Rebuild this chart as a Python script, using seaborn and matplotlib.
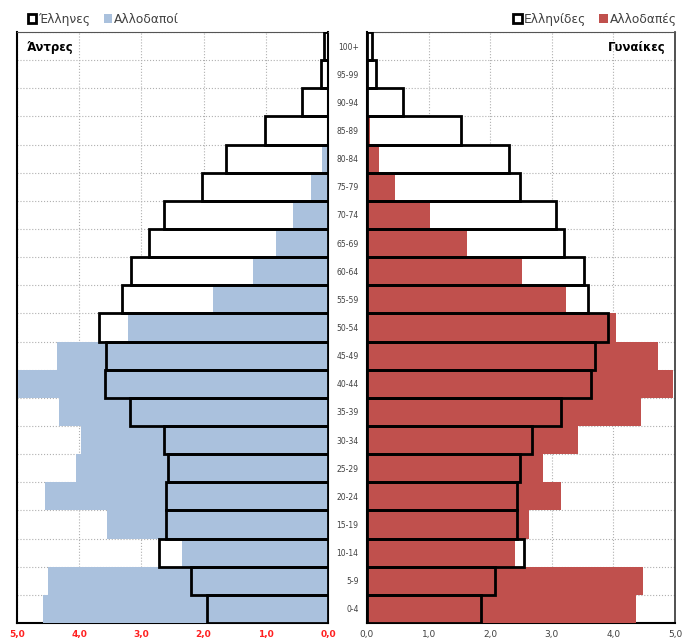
import numpy as np
import pandas as pd
import matplotlib
matplotlib.use("Agg")
import matplotlib.pyplot as plt
from matplotlib.patches import Patch
import seaborn as sns

# ── Data (percent of population, by age group) ──────────────────────────────
ages = ['0-4', '5-9', '10-14', '15-19', '20-24', '25-29', '30-34', '35-39',
        '40-44', '45-49', '50-54', '55-59', '60-64', '65-69', '70-74', '75-79',
        '80-84', '85-89', '90-94', '95-99', '100+']
men_greek = [1.95, 2.21, 2.71, 2.60, 2.60, 2.58, 2.63, 3.19, 3.59, 3.57, 3.68,
             3.31, 3.17, 2.87, 2.63, 2.02, 1.64, 1.01, 0.42, 0.12, 0.07]
men_foreign = [4.58, 4.50, 2.35, 3.56, 4.55, 4.05, 3.97, 4.32, 4.99, 4.36, 3.21,
               1.85, 1.21, 0.84, 0.56, 0.28, 0.10, 0.0, 0.0, 0.0, 0.0]
women_greek = [1.85, 2.07, 2.55, 2.44, 2.44, 2.48, 2.68, 3.15, 3.63, 3.70, 3.91,
               3.59, 3.52, 3.20, 3.07, 2.48, 2.31, 1.52, 0.59, 0.15, 0.08]
women_foreign = [4.37, 4.48, 2.40, 2.63, 3.15, 2.85, 3.43, 4.45, 4.97, 4.72, 4.04,
                 3.23, 2.51, 1.62, 1.03, 0.46, 0.19, 0.05, 0.0, 0.0, 0.0]
x_ticks = [0, 1, 2, 3, 4, 5]

df = pd.DataFrame({'age': ages, 'men_greek': men_greek, 'men_foreign': men_foreign,
                   'women_greek': women_greek, 'women_foreign': women_foreign})
order = ages[::-1]

# ── Style ───────────────────────────────────────────────────────────────────
sns.set_style('white')
plt.rcParams['font.family'] = ['DejaVu Sans']
BLUE = '#aac1dd'; RED = '#c0504d'; GRID = '#b0b0b0'; TXT = '#404040'

fig = plt.figure(figsize=(6.92, 6.41), dpi=100)
ax_l = fig.add_axes([17/692, 18/641, 311/692, 591/641])
ax_r = fig.add_axes([367/692, 18/641, 308/692, 591/641])


def draw_side(ax, greek, foreign, fcolor):
    sns.barplot(data=df, x=greek, y='age', order=order, orient='h', color='white',
                width=1.0, edgecolor='none', saturation=1, ax=ax, zorder=2)
    sns.barplot(data=df, x=foreign, y='age', order=order, orient='h', color=fcolor,
                width=1.0, edgecolor='none', saturation=1, ax=ax, zorder=3)
    sns.barplot(data=df, x=greek, y='age', order=order, orient='h', color='black',
                width=1.0, fill=False, linewidth=2.0, saturation=1, ax=ax, zorder=4)
    ax.set_xlim(0, 5)
    ax.set_ylim(len(ages) - 0.5, -0.5)
    ax.set_xticks(x_ticks)
    ax.set_xticklabels([f'{v:.1f}'.replace('.', ',') for v in x_ticks])
    ax.set_yticks(np.arange(-0.5, len(ages), 1), minor=True)
    ax.set_axisbelow(True)
    ax.grid(axis='x', which='major', color=GRID, linestyle=':', linewidth=0.8)
    ax.grid(axis='y', which='minor', color=GRID, linestyle=':', linewidth=0.8)
    ax.set_xlabel('')
    ax.set_ylabel('')
    ax.tick_params(axis='x', which='major', length=3, width=1, color='black', pad=2)
    for side in ['top', 'right', 'left', 'bottom']:
        ax.spines[side].set_visible(True)
    ax.spines['top'].set_color('#555555')
    ax.spines['top'].set_linewidth(0.8)


leg_kw = dict(ncol=2, frameon=False, fontsize=8.8, handlelength=0.7, handleheight=0.7,
              handletextpad=0.15, columnspacing=1.1, borderpad=0.1, borderaxespad=0.4,
              labelcolor=TXT)

# ── Men (left) ──────────────────────────────────────────────────────────────
draw_side(ax_l, 'men_greek', 'men_foreign', BLUE)
ax_l.set_xlim(5, 0)
ax_l.set_yticks([])
ax_l.tick_params(axis='y', which='both', length=0, labelleft=False)
for lbl in ax_l.get_xticklabels():
    lbl.set_color('#ff2020')
    lbl.set_fontsize(6.5)
    lbl.set_fontweight('bold')
ax_l.spines['left'].set_color('black'); ax_l.spines['left'].set_linewidth(1.5)
ax_l.spines['bottom'].set_color('black'); ax_l.spines['bottom'].set_linewidth(1.5)
ax_l.spines['right'].set_color('black'); ax_l.spines['right'].set_linewidth(1.5)
ax_l.text(0.03, 0.985, 'Άντρες', transform=ax_l.transAxes, ha='left', va='top',
          fontsize=8.5, fontweight='bold', color='black', zorder=6)
ax_l.legend(handles=[Patch(facecolor='white', edgecolor='black', linewidth=2, label='Έλληνες'),
                     Patch(facecolor=BLUE, edgecolor='none', label='Αλλοδαποί')],
            loc='lower left', bbox_to_anchor=(0.015, 1.0), **leg_kw)

# ── Women (right) ───────────────────────────────────────────────────────────
draw_side(ax_r, 'women_greek', 'women_foreign', RED)
ax_r.set_yticks(range(len(ages)))
ax_r.set_yticklabels(order)
ax_r.tick_params(axis='y', which='major', length=0, labelsize=5.5, labelcolor=TXT, pad=6)
ax_r.tick_params(axis='y', which='minor', length=3, width=1, color='black')
for lbl in ax_r.get_xticklabels():
    lbl.set_color(TXT)
    lbl.set_fontsize(6.5)
ax_r.spines['left'].set_color('black'); ax_r.spines['left'].set_linewidth(1.5)
ax_r.spines['bottom'].set_color('black'); ax_r.spines['bottom'].set_linewidth(1.5)
ax_r.spines['right'].set_color('#333333'); ax_r.spines['right'].set_linewidth(1.2)
ax_r.text(0.97, 0.985, 'Γυναίκες', transform=ax_r.transAxes, ha='right', va='top',
          fontsize=8.5, fontweight='bold', color='black', zorder=6)
ax_r.legend(handles=[Patch(facecolor='white', edgecolor='black', linewidth=2, label='Ελληνίδες'),
                     Patch(facecolor=RED, edgecolor='none', label='Αλλοδαπές')],
            loc='lower right', bbox_to_anchor=(1.025, 1.0), **leg_kw)

fig.savefig('out.png', dpi=100)
plt.close(fig)
